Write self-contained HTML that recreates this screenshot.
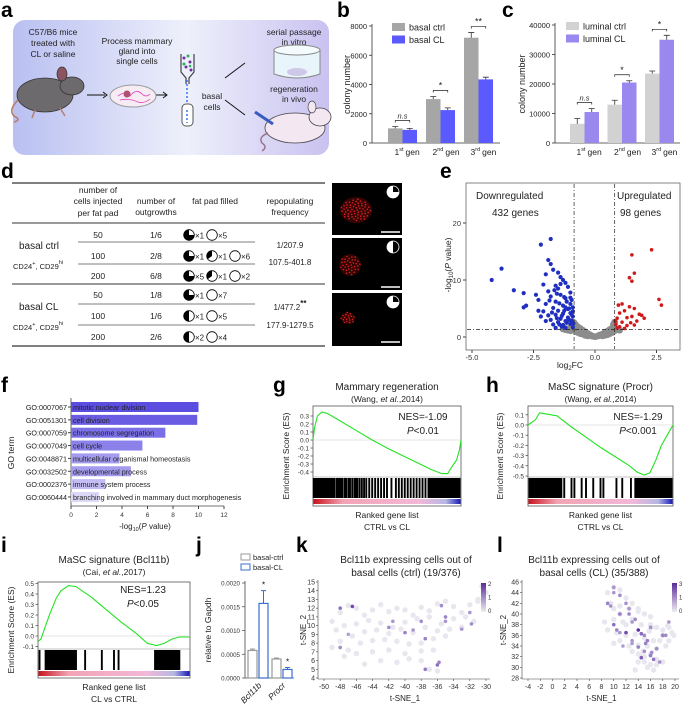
<!DOCTYPE html>
<html><head><meta charset="utf-8">
<style>
html,body{margin:0;padding:0;background:#fff;}
svg{display:block;font-family:"Liberation Sans",Arial,sans-serif;}
.pl{font-weight:bold;font-size:21px;}
.t{font-size:8.5px;fill:#222;}
.tb{font-size:9.5px;fill:#222;}
</style></head>
<body>
<svg id="fig" width="682" height="705" viewBox="0 0 682 705" xmlns="http://www.w3.org/2000/svg">
<defs>
<linearGradient id="bgA" x1="0" x2="1" y1="0" y2="0">
<stop offset="0" stop-color="#b9c0f1"/><stop offset="0.55" stop-color="#eef0fb"/><stop offset="1" stop-color="#c9c2f0"/></linearGradient>
<linearGradient id="strip" x1="0" x2="1"><stop offset="0" stop-color="#c8141e"/><stop offset="0.2" stop-color="#f2a4b4"/><stop offset="0.72" stop-color="#f2b8d8"/><stop offset="0.9" stop-color="#b4b8e4"/><stop offset="1" stop-color="#1a1ab8"/></linearGradient>
<linearGradient id="cbk" x1="0" x2="0" y1="1" y2="0"><stop offset="0" stop-color="#eeeeee"/><stop offset="1" stop-color="#5a2a9c"/></linearGradient>
</defs>

<g>
<text class="pl" x="1" y="17">a</text>
<rect x="13" y="20" width="316" height="135" rx="12" fill="url(#bgA)"/>
<g class="t" text-anchor="middle" font-size="8.5">
<text x="53" y="35">C57/B6 mice</text><text x="53" y="46">treated with</text><text x="53" y="57">CL or saline</text>
<text x="137" y="44">Process mammary</text><text x="137" y="54">gland into</text><text x="137" y="64">single cells</text>
<text x="294" y="35">serial passage</text><text x="294" y="45">in vitro</text>
<text x="294" y="92">regeneration</text><text x="294" y="102">in vivo</text>
<text x="212" y="99">basal</text><text x="212" y="110">cells</text>
</g>
<g>
<ellipse cx="45" cy="95" rx="28" ry="17" fill="#6d6a6e" stroke="#333" stroke-width="0.8"/>
<ellipse cx="72" cy="86" rx="12" ry="9" fill="#6d6a6e" stroke="#333" stroke-width="0.8"/>
<ellipse cx="62" cy="74" rx="5" ry="7" fill="#8a5560" stroke="#333" stroke-width="0.7"/>
<path d="M18 100 Q8 110 14 116 Q22 120 14 122" fill="none" stroke="#b77e70" stroke-width="1.6"/>
<path d="M35 110 l-3 8 M60 108 l5 8" stroke="#b77e70" stroke-width="1.5"/>
</g>
<path d="M87 95 h18 M150 95 h16 M225 78 l20 -15 M225 100 l20 15" stroke="#111" stroke-width="1" fill="none"/>
<path d="M103 92 l4 3 l-4 3 M163 92 l4 3 l-4 3" stroke="#111" fill="none"/>
<g>
<ellipse cx="133" cy="96" rx="23" ry="11" fill="#f7ecf3" stroke="#999"/>
<path d="M118 96 q8 -6 12 0 q6 -8 12 -2 q4 4 8 0 M120 100 q10 -2 18 2 q6 2 12 -3" stroke="#e040c0" fill="none" stroke-width="0.8"/>
<circle cx="127" cy="94" r="3.5" fill="#b05070"/>
</g>
<g>
<path d="M181 54 v18 l5 6 v6 M194 54 v18 l-5 6 v6" stroke="#444" fill="none" stroke-width="1.2"/>
<g fill="#7030a0"><circle cx="184" cy="58" r="1.5"/><circle cx="190" cy="62" r="1.5"/><circle cx="186" cy="67" r="1.5"/><circle cx="191" cy="70" r="1.5"/></g>
<g fill="#30b060"><circle cx="188" cy="56" r="1.5"/><circle cx="184" cy="64" r="1.5"/><circle cx="190" cy="66" r="1.3"/></g>
<path d="M187 80 v28" stroke="#4080f0" stroke-width="1.6" stroke-dasharray="2 2"/>
<rect x="182" y="104" width="11" height="22" rx="4" fill="#fff" stroke="#555"/>
<path d="M187 110 v13" stroke="#4080f0" stroke-width="1.6" stroke-dasharray="2 2"/>
</g>
<g>
<path d="M274 50 v24 q23 8 46 0 v-24" fill="#e8f6fb" stroke="#888"/>
<ellipse cx="297" cy="50" rx="23" ry="5" fill="#f4fbfd" stroke="#888"/>
<ellipse cx="297" cy="72" rx="10" ry="4" fill="#cfc8e8"/>
</g>
<g>
<ellipse cx="295" cy="128" rx="30" ry="15" fill="#f3e7f1" stroke="#444" stroke-width="0.8"/>
<ellipse cx="320" cy="117" rx="11" ry="9" fill="#f3e7f1" stroke="#444" stroke-width="0.8"/>
<ellipse cx="312" cy="107" rx="4" ry="6" fill="#f3e7f1" stroke="#444" stroke-width="0.7"/>
<path d="M268 133 q-10 4 -6 10 q6 4 0 8" stroke="#a07090" fill="none" stroke-width="1.5"/>
<path d="M255 112 l18 12" stroke="#3a5bc0" stroke-width="3"/>
</g>
</g>

<text class="pl" x="337" y="17">b</text>
<text class="pl" x="502" y="17">c</text>
<g id="bc"></g>

<text class="pl" x="1" y="178">d</text>
<g id="tableD" class="tb" font-size="8.5">
<line x1="12" x2="325" y1="183" y2="183" stroke="#333" stroke-width="1.3"/>
<g text-anchor="middle" font-size="8.5">
<text x="98" y="193">number of</text><text x="98" y="204">cells injected</text><text x="98" y="216">per fat pad</text>
<text x="156" y="204">number of</text><text x="156" y="215">outgrowths</text>
<text x="215" y="204">fat pad filled</text>
<text x="290" y="204">repopulating</text><text x="290" y="215">frequency</text>
</g>
<line x1="12" x2="325" y1="223" y2="223" stroke="#333" stroke-width="1"/>
<line x1="12" x2="325" y1="284" y2="284" stroke="#333" stroke-width="1"/>
<line x1="12" x2="325" y1="346" y2="346" stroke="#333" stroke-width="1.3"/>
<g stroke="#999" stroke-width="1.2"><line x1="78" x2="255" y1="242" y2="242"/><line x1="78" x2="255" y1="264" y2="264"/><line x1="78" x2="255" y1="304" y2="304"/><line x1="78" x2="255" y1="325" y2="325"/></g>
<text x="19" y="249" font-size="10">basal ctrl</text>
<text x="13" y="269" font-size="7.5">CD24<tspan dy="-4" font-size="5.5">+</tspan><tspan dy="4">, CD29</tspan><tspan dy="-5" font-size="5.5">hi</tspan></text>
<text x="19" y="310" font-size="10">basal CL</text>
<text x="13" y="330" font-size="7.5">CD24<tspan dy="-4" font-size="5.5">+</tspan><tspan dy="4">, CD29</tspan><tspan dy="-5" font-size="5.5">hi</tspan></text>
<g text-anchor="middle" font-size="8">
<text x="290" y="248">1/207.9</text><text x="290" y="265">107.5-401.8</text>
<text x="290" y="310">1/477.2<tspan dy="-4" font-size="8" font-weight="bold">**</tspan></text><text x="290" y="328">177.9-1279.5</text>
</g>
<g id="drows"></g>
</g>
<g>
<rect x="332" y="183" width="70" height="52" fill="#000"/>
<rect x="332" y="238" width="70" height="52" fill="#000"/>
<rect x="332" y="293" width="70" height="53" fill="#000"/>
<g fill="#b01010">
<ellipse cx="356" cy="210" rx="16" ry="13" opacity="0.3"/><ellipse cx="350" cy="265" rx="11" ry="11" opacity="0.28"/><ellipse cx="348" cy="318" rx="7" ry="6" opacity="0.28"/>
</g>
<g id="speckles" fill="#e02020"></g>
<g stroke="#fff" stroke-width="1.5"><line x1="381" x2="400" y1="232" y2="232"/><line x1="381" x2="400" y1="287" y2="287"/><line x1="381" x2="400" y1="342" y2="342"/></g>
<g id="imgpies"></g>
</g>

<text class="pl" x="440" y="178">e</text>
<g id="volcano"></g>

<text class="pl" x="1" y="392">f</text>
<g id="goBars"></g>
<text class="pl" x="273" y="392">g</text>
<text class="pl" x="486" y="392">h</text>
<text class="pl" x="1" y="552">i</text>
<text class="pl" x="196" y="552">j</text>
<text class="pl" x="296" y="552">k</text>
<text class="pl" x="497" y="552">l</text>
<g id="gsea"></g>
<g id="qpcr"></g>
<g id="tsne"></g>
</svg>

<script>
const bCats = ["1st","2nd","3rd"];
const bCtrl = [1000, 3000, 7200];
const bCtrlErr = [130, 180, 350];
const bCL = [900, 2250, 4350];
const bCLErr = [100, 150, 150];
const bTicks = [0,2000,4000,6000,8000];
const bSig = ["n.s","*","**"];
const cCtrl = [6500, 13000, 23500];
const cCtrlErr = [1800, 1500, 900];
const cCL = [10500, 20500, 35000];
const cCLErr = [1200, 600, 1500];
const cTicks = [0,10000,20000,30000,40000];
const cSig = ["n.s","*","*"];
const dCells = ["50","100","200","50","100","200"];
const dOut = ["1/6","2/8","6/8","1/8","1/6","2/6"];
const dFill = [[[0.75,1],[0,5]],[[0.75,1],[0.35,1],[0,6]],[[0.75,5],[0.35,1],[0,2]],[[0.75,1],[0,7]],[[0.5,1],[0,5]],[[0.5,2],[0,4]]];
const imgFrac = [0.75,0.5,0.75];
const volBlueX = [-4.2,-3.8,-3.3,-2.9,-2.8,-2.9,-2.4,-2.2,-1.8,-1.9,-1.8,-1.7,-1.5,-2.0,-1.4,-1.3,-2.1,-1.6,-1.2,-1.9,-1.5,-1.1,-2.3,-1.8,-1.4,-1.0,-2.0,-1.6,-1.2,-0.95,-1.7,-1.3,-1.0,-2.1,-1.5,-1.1,-0.9,-1.9,-1.6,-1.3,-1.0,-0.9,-1.8,-1.4,-1.1,-1.5,-1.2,-0.95,-1.7,-1.3,-1.0,-1.6,-1.2,-0.9,-2.0,-2.2,-1.75,-1.45,-1.25,-1.55,-0.9,-1.05,-1.35,-1.85,-1.65,-1.15,-1.4,-1.0,-1.2,-0.88,-2.3,-1.35,-1.55,-1.15,-0.95,-1.25,-1.45,-1.05];
const volBlueY = [10,12,8.2,7.7,5.5,5.2,7.4,16.2,17.2,13.5,12.8,11.8,11.3,11,10.5,10,9.2,9.0,9.5,8.0,8.5,8.8,6.5,7.1,7.4,7.8,5.8,6.2,6.8,6.5,5.1,5.5,5.8,4.5,4.6,4.9,5.2,3.8,3.9,4.1,4.2,3.6,3.0,3.2,3.4,2.6,2.8,2.9,2.2,2.1,2.3,1.6,1.6,1.7,2.8,3.6,4.3,5.9,7.0,7.6,4.5,3.0,1.8,6.4,8.2,6.2,9.3,6.9,5.2,2.4,4.6,3.7,3.3,2.5,3.9,4.6,2.2,5.0];
const volRedX = [2.3,1.5,1.6,1.4,1.5,2.6,2.7,1.1,0.95,1.4,1.6,1.2,1.8,1.9,1.0,0.9,1.3,1.5,1.1,1.7,0.85,1.0,1.3,1.6,1.2,0.9,2.0,0.82,1.45];
const volRedY = [15.3,14.4,11.2,10.4,9.8,6.6,5.6,5.8,5.6,5.3,5.0,4.6,4.0,3.8,4.2,3.3,3.4,3.6,2.6,2.8,2.2,1.8,2.0,2.1,1.5,1.6,3.3,2.8,2.5];
const volGrayX = [-1.3,-1.2,-1.1,-1.0,-0.9,-0.85,-0.8,-0.8,-0.7,-0.7,-0.6,-0.6,-0.5,-0.5,-0.4,-0.4,-0.3,-0.3,-0.2,-0.1,0,0.1,0.2,0.3,0.3,0.4,0.4,0.5,0.5,0.6,0.6,0.7,0.7,0.75,0.8,0.8,-0.95,-1.05,-1.25,0.85,0.9,1.0,-0.65,-0.45,0.45,0.65,-0.15,0.15,-0.25,0.25];
const volGrayY = [1.4,1.3,1.2,1.1,1.3,2.5,2.2,1.0,1.8,0.8,1.5,0.6,1.2,0.5,0.9,0.3,0.6,0.2,0.4,0.15,0.05,0.15,0.35,0.5,0.2,0.8,0.3,1.0,0.4,1.3,0.6,1.6,0.8,2.2,1.1,2.6,2.0,1.5,1.6,1.4,1.3,1.2,1.1,0.7,0.6,1.0,0.2,0.25,0.3,0.3];
const volXTicks = [-5,-2.5,0,2.5];
const volYTicks = [0,10,20];
const goIds = ["GO:0007067","GO:0051301","GO:0007059","GO:0007049","GO:0048871","GO:0032502","GO:0002376","GO:0060444"];
const goTerms = ["mitotic nuclear division","cell division","chromosome segregation","cell cycle","multicellular organismal homeostasis","developmental process","immune system process","branching involved in mammary duct morphogenesis"];
const goVals = [10, 9.9, 7.4, 5.6, 3.8, 4.7, 2.7, 2.2];
const goTicks = [0,2,4,6,8,10,12];
const gRank = [0,0.01,0.03,0.06,0.1,0.2,0.3,0.4,0.5,0.6,0.7,0.8,0.87,0.91,0.94,0.97,0.99,1.0];
const gES = [0,0.15,0.3,0.35,0.33,0.22,0.11,0.0,-0.1,-0.19,-0.28,-0.37,-0.42,-0.42,-0.33,-0.25,-0.12,0];
const gHits = [0.005,0.015,0.025,0.035,0.045,0.055,0.065,0.075,0.085,0.095,0.105,0.115,0.125,0.135,0.145,0.16,0.17,0.18,0.19,0.2,0.215,0.225,0.24,0.25,0.265,0.28,0.29,0.3,0.315,0.33,0.345,0.36,0.38,0.4,0.42,0.44,0.46,0.48,0.5,0.53,0.56,0.58,0.6,0.62,0.64,0.66,0.68,0.7,0.72,0.74,0.76,0.78,0.79,0.8,0.81,0.82,0.83,0.84,0.85,0.86,0.87,0.88,0.89,0.9,0.91,0.92,0.93,0.94,0.95,0.96,0.97,0.98,0.99];
const hRank = [0,0.02,0.05,0.08,0.12,0.2,0.3,0.4,0.5,0.6,0.7,0.75,0.8,0.84,0.88,0.92,0.96,1.0];
const hES = [0,0.02,0.05,0.12,0.11,0.09,-0.02,-0.12,-0.22,-0.31,-0.4,-0.46,-0.49,-0.47,-0.35,-0.2,-0.1,0];
const hHits = [0.01,0.02,0.03,0.04,0.05,0.06,0.07,0.08,0.09,0.1,0.11,0.12,0.13,0.14,0.15,0.16,0.17,0.18,0.19,0.2,0.21,0.22,0.23,0.25,0.3,0.32,0.37,0.4,0.45,0.5,0.52,0.61,0.65,0.71,0.74,0.75,0.76,0.77,0.78,0.79,0.8,0.81,0.82,0.83,0.84,0.85,0.86,0.87,0.88,0.89,0.9,0.91,0.92,0.93,0.94,0.95,0.96,0.97,0.98,0.99];
const iRank = [0,0.02,0.05,0.08,0.12,0.15,0.2,0.25,0.35,0.45,0.55,0.65,0.72,0.78,0.83,0.88,0.93,0.97,1.0];
const iES = [-0.05,-0.03,0.1,0.22,0.36,0.43,0.48,0.47,0.37,0.25,0.13,0.02,-0.07,-0.09,-0.07,-0.03,-0.01,-0.01,-0.01];
const iHits = [0.01,0.05,0.06,0.07,0.08,0.09,0.1,0.11,0.12,0.13,0.14,0.15,0.16,0.17,0.18,0.19,0.2,0.21,0.22,0.23,0.24,0.25,0.31,0.42,0.5,0.53,0.77,0.78,0.79,0.8,0.81,0.82,0.83,0.84,0.85,0.86,0.87,0.88,0.89,0.9,0.91,0.92,0.93];
const jGenes = ["Bcl11b","Procr"];
const jCtrl = [0.00058, 0.0004];
const jCtrlErr = [0.00003, 0.00002];
const jCL = [0.00157, 0.00018];
const jCLErr = [0.00027, 0.00004];
const jTicks = [0,0.0005,0.001,0.0015,0.002];
const kGrayX = [-49,-48,-47,-46,-45,-44,-43,-42,-41,-40,-39,-38,-37,-36,-35,-34,-33,-32,-31,-30.5,-48.5,-47.5,-46,-44.5,-43,-41.5,-40,-38.5,-37,-35.5,-34,-32.5,-31.5,-48,-46.5,-45,-43.5,-42,-40.5,-39,-37.5,-36,-34.5,-33,-49,-47,-45.5,-44,-42.5,-41,-39.5,-38,-36.5,-35,-47.5,-46,-44,-42,-40,-38,-36.5,-45,-43,-41,-39.5,-38,-37,-36,-30,-31];
const kGrayY = [10.5,11.5,12.3,12,11.2,11.8,12.4,11.6,12,11.8,11.2,12.1,11.7,12.5,12.8,12.2,11.5,12.4,13,14.5,9.5,10,10.2,10.6,10.3,9.8,10.4,10.8,11,10.2,10.8,11,10.5,8.2,8.8,9.3,9.5,9.1,9.6,9.2,9.8,9.4,9.6,9.8,7.5,7.2,8.0,8.3,8.4,8.2,7.9,8.0,8.5,8.8,6.5,6.8,7.0,7.2,6.8,7.1,7.2,5.6,6.0,5.8,6.2,6.0,5.0,4.8,13.8,12.8];
const kHiX = [-48,-46.5,-41.5,-42,-47,-48,-39,-40,-38,-35.5,-35,-35,-32,-31.8,-37.5,-36,-35.8,-37.5,-33];
const kHiY = [12,12.2,10.5,9.8,9,7.5,9.5,9.2,10.5,12.3,11,10.5,11.5,10.2,8.5,5.5,5.8,5,9.6];
const kHiV = [1.2,1.6,0.8,0.9,0.7,0.9,0.8,1.0,0.9,0.9,1.0,0.8,0.8,0.9,1.0,1.2,1.0,1.1,0.8];
const kXTicks = [-50,-48,-46,-44,-42,-40,-38,-36,-34,-32,-30];
const kYTicks = [4,5,6,7,8,9,10,11,12,13,14,15];
const lGrayX = [9,10,11,12,13,14,9.5,11,12.5,14,15,16,10,11.5,13,14.5,16,17,18,19,19.5,9,10.5,12,13.5,15,16.5,18,19,10,11,12.5,14,15.5,17,18.5,13,14,15,16,17,14,15,16,17,18,13.5,15.5,16.5,14.5,12,11,10,8.5,17.5,19.8,18.8,16.2,15.8,14.8];
const lGrayY = [44,45,44.5,43,42,41,42,41.5,41,40.5,40,39.5,39,38.5,39,38,38,37.5,37,37.5,36.5,37,36.5,36,36.2,35.5,35,36,35,34.5,35,34,34.2,34,33.5,34,33,32.5,32,32.5,31.5,31,31,30.5,30.5,31,29.5,30,29.5,32,38,40,41,38.5,35,36,37.8,37.5,36.8,33];
const lHiX = [9,10,11,12,12.5,13,11,10,13.5,14,15,16,12,13,14.5,15.5,17,18,19,10.5,11.5,16,15,14,13,18.5,16.5,17.5,11,12.5,14.5,16.2,15.2,9.5,10];
const lHiY = [42,45,43.5,42,40,38.5,40,38,39,37,36,37.5,36.5,35,36.3,35,33.5,36,38.5,37,34,32.2,33,33.8,34.5,36,31.5,31,36.5,41,31.8,32.8,34.5,41.5,44];
const lHiV = [1.5,1.2,1.4,1.3,1.5,1.2,1.6,1.8,1.4,2.8,1.4,1.3,2.4,1.2,1.9,1.6,1.4,1.5,1.2,1.5,1.1,1.6,1.3,1.5,1.1,1.4,1.7,1.3,1.2,1.2,2.1,1.4,1.5,1.3,1.2];
const lXTicks = [-4,-2,0,2,4,6,8,10,12,14,16,18,20];
const lYTicks = [28,30,32,34,36,38,40,42,44,46];

const NS = "http://www.w3.org/2000/svg";
function el(tag, attrs, parent, txt){
  const e = document.createElementNS(NS, tag);
  for (const k in attrs) e.setAttribute(k, attrs[k]);
  if (txt !== undefined) e.textContent = txt;
  parent.appendChild(e); return e;
}
function lin(d0,d1,r0,r1){ return v => r0 + (v-d0)/(d1-d0)*(r1-r0); }

function barPanel(g, o){
  const y = lin(0, o.max, o.y0, o.y1);
  el("line",{x1:o.ax,x2:o.ax,y1:o.y0,y2:o.y1-2,stroke:"#333","stroke-width":0.8},g);
  el("line",{x1:o.ax,x2:o.axEnd,y1:o.y0,y2:o.y0,stroke:"#333","stroke-width":0.8},g);
  o.ticks.forEach(t=>{
    el("line",{x1:o.ax-3,x2:o.ax,y1:y(t),y2:y(t),stroke:"#333","stroke-width":0.8},g);
    const tl = el("text",{x:o.ax-5,y:y(t)+3,"text-anchor":"end","font-size":7.5,fill:"#222"},g,String(t));
    
    
  });
  const yl = el("text",{transform:`translate(${o.ylx},${(o.y0+o.y1)/2}) rotate(-90)`,"text-anchor":"middle","font-size":9,fill:"#222"},g,"colony number");
  
  
  o.cats.forEach((c,i)=>{
    const x0 = o.x0 + i*o.step;
    const r1 = el("rect",{x:x0,y:y(o.a[i]),width:o.bw,height:o.y0-y(o.a[i]),fill:o.ca},g);
    
    
    const r2 = el("rect",{x:x0+o.bw,y:y(o.b[i]),width:o.bw,height:o.y0-y(o.b[i]),fill:o.cb},g);
    
    
    [[x0,o.a[i],o.ae[i]],[x0+o.bw,o.b[i],o.be[i]]].forEach(([bx,v,e])=>{
      const cx = bx+o.bw/2;
      el("path",{d:`M${cx} ${y(v)} V${y(v+e)} M${cx-3} ${y(v+e)} H${cx+3}`,stroke:"#333","stroke-width":0.8,fill:"none"},g);
    });
    const top = y(Math.max(o.a[i]+o.ae[i], o.b[i]+o.be[i])) - 6;
    el("path",{d:`M${x0+o.bw/2} ${top+2} V${top} H${x0+1.5*o.bw} V${top+2}`,stroke:"#222","stroke-width":0.7,fill:"none"},g);
    el("text",{x:x0+o.bw,y:top-2,"text-anchor":"middle","font-size":o.sig[i]==="n.s"?7.5:9,"font-style":o.sig[i]==="n.s"?"italic":"normal",fill:"#222"},g,o.sig[i]);
    const xl = el("text",{x:x0+o.bw-8,y:o.y0+12,"font-size":8.5,fill:"#222"},g);
    
    
    el("tspan",{},xl,c[0]);
    el("tspan",{dy:-4,"font-size":5.5},xl,c.slice(1));
    el("tspan",{dy:4,dx:2},xl,"gen");
  });
  o.legend.forEach((L,k)=>{
    const r = el("rect",{x:o.lx,y:o.ly+k*12.5-4,width:13,height:8,fill:L[1]},g);
    
    
    const t = el("text",{x:o.lx+17,y:o.ly+k*12.5+3.5,"font-size":9,fill:"#222"},g,L[0]);
    
    
  });
}
const gb = el("g",{},document.getElementById("bc"));


barPanel(gb,{max:8000,y0:143,y1:26,ax:372,axEnd:500,ylx:350,ticks:bTicks,cats:bCats,a:bCtrl,ae:bCtrlErr,b:bCL,be:bCLErr,sig:bSig,x0:388,step:38,bw:14.5,ca:"#a6a6a6",cb:"#5a5aff",lx:392,ly:27,legend:[["basal ctrl","#a6a6a6"],["basal CL","#5a5aff"]]});
const gc = el("g",{},document.getElementById("bc"));


barPanel(gc,{max:40000,y0:143,y1:25,ax:555,axEnd:680,ylx:525,ticks:cTicks,cats:bCats,a:cCtrl,ae:cCtrlErr,b:cCL,be:cCLErr,sig:cSig,x0:570,step:37.5,bw:14.5,ca:"#d2d2d2",cb:"#9a88ee",lx:566,ly:26,legend:[["luminal ctrl","#d2d2d2"],["luminal CL","#9a88ee"]]});

function pie(parent,cx,cy,r,f,bg,fg){
  el("circle",{cx,cy,r,fill:bg,stroke:fg,"stroke-width":0.8},parent);
  if (f<=0) return;
  const a = -f*2*Math.PI;
  const px = cx + r*Math.sin(a), py = cy - r*Math.cos(a);
  el("path",{d:`M${cx} ${cy} L${px} ${py} A${r} ${r} 0 ${f>0.5?1:0} 1 ${cx} ${cy-r} Z`,fill:fg},parent);
}
const rowsY = [235,256,276,295,316,337];
const dr = document.getElementById("drows");
rowsY.forEach((ry,i)=>{
  const rg = el("g",{},dr);
  
  
  el("text",{x:98,y:ry+3,"text-anchor":"middle","font-size":8.5},rg,dCells[i]);
  el("text",{x:156,y:ry+3,"text-anchor":"middle","font-size":8.5},rg,dOut[i]);
  let x = 189;
  dFill[i].forEach(([f,n])=>{
    pie(rg,x,ry,5.3,f,"#fff","#000");
    el("text",{x:x+6,y:ry+3.5,"font-size":8},rg,"×"+n);
    x += 23;
  });
});
const ip = document.getElementById("imgpies");
[192,247,302].forEach((cy,i)=>pie(ip,393,cy,6,imgFrac[i],"#000","#fff"));
// speckle texture for whole mounts (decorative)
const sp = document.getElementById("speckles");
const spCenters = [[356,210,15,11,60],[350,265,10,10,35],[348,318,7,6,18]];
spCenters.forEach(([cx,cy,rx,ry,n])=>{
  for(let k=0;k<n;k++){
    const a = k*2.39996, rr = Math.sqrt((k+0.5)/n);
    el("circle",{cx:cx+Math.cos(a)*rx*rr,cy:cy+Math.sin(a)*ry*rr,r:0.8},sp);
  }
});

(function(){
  const g = document.getElementById("volcano");
  
  
  const x = lin(-5,0,472,595), y = lin(0,20,337,223);
  el("rect",{x:466,y:183,width:214,height:167,fill:"#fff",stroke:"#666","stroke-width":0.8},g);
  volXTicks.forEach(t=>{
    el("line",{x1:x(t),x2:x(t),y1:350,y2:353,stroke:"#444"},g);
    const tl = el("text",{x:x(t),y:360,"text-anchor":"middle","font-size":7.5,fill:"#333"},g,t.toFixed(1));
    
    
  });
  volYTicks.forEach(t=>{
    el("line",{x1:463,x2:466,y1:y(t),y2:y(t),stroke:"#444"},g);
    const tl = el("text",{x:461,y:y(t)+3,"text-anchor":"end","font-size":7.5,fill:"#333"},g,t);
    
    
  });
  volGrayX.forEach((v,i)=>{
    const c = el("circle",{cx:x(v),cy:y(volGrayY[i]),r:3.4,fill:"#8c8c8c"},g);
    
    
  });
  volBlueX.forEach((v,i)=>{
    const c = el("circle",{cx:x(v),cy:y(volBlueY[i]),r:2.1,fill:"#1f2fc0"},g);
    
    
  });
  volRedX.forEach((v,i)=>{
    const c = el("circle",{cx:x(v),cy:y(volRedY[i]),r:1.8,fill:"#d01a1a"},g);
    
    
  });
  [-0.85,0.8].forEach(t=>el("line",{x1:x(t),x2:x(t),y1:184,y2:349,stroke:"#222","stroke-width":0.7,"stroke-dasharray":"4 2 1 2"},g));
  el("line",{x1:467,x2:679,y1:y(1.3),y2:y(1.3),stroke:"#222","stroke-width":0.7,"stroke-dasharray":"4 2 1 2"},g);
  el("text",{x:476,y:199,"font-size":10,fill:"#222"},g,"Downregulated");
  el("text",{x:492,y:216,"font-size":10,fill:"#222"},g,"432 genes");
  el("text",{x:617,y:199,"font-size":10,fill:"#222"},g,"Upregulated");
  el("text",{x:620,y:216,"font-size":10,fill:"#222"},g,"98 genes");
  const xt = el("text",{x:570,y:368,"text-anchor":"middle","font-size":8.5,fill:"#222"},g);
  
  
  el("tspan",{},xt,"log");el("tspan",{"font-size":6,dy:2},xt,"2");el("tspan",{dy:-2},xt,"FC");
  const yt = el("text",{transform:"translate(451,265) rotate(-90)","text-anchor":"middle","font-size":8.5,fill:"#222"},g);
  
  
  el("tspan",{},yt,"-log");el("tspan",{"font-size":6,dy:2},yt,"10");el("tspan",{dy:-2},yt,"(");el("tspan",{"font-style":"italic"},yt,"P");el("tspan",{},yt," value)");
})();

(function(){
  const g = document.getElementById("goBars");
  
  
  const x = lin(0,12,71,224);
  const rowH = 12.85, top = 401;
  const cols = ["#5b4de0","#6a5de4","#7a6fe6","#8b81ea","#a49bef","#a49bef","#c3bdf4","#dcd9f8"];
  el("line",{x1:71,x2:71,y1:398,y2:506,stroke:"#444","stroke-width":0.8},g);
  el("line",{x1:71,x2:224,y1:506,y2:506,stroke:"#444","stroke-width":0.8},g);
  goIds.forEach((id,i)=>{
    const cy = top + i*rowH + 6;
    const r = el("rect",{x:71,y:cy-5,width:x(goVals[i])-71,height:10,fill:cols[i]},g);
    
    
    el("line",{x1:68,x2:71,y1:cy,y2:cy,stroke:"#444"},g);
    el("text",{x:67,y:cy+3,"text-anchor":"end","font-size":7.2,fill:"#222"},g,id);
    el("text",{x:73,y:cy+3,"font-size":7.2,fill:"#222"},g,goTerms[i]);
  });
  goTicks.forEach(t=>{
    el("line",{x1:x(t),x2:x(t),y1:506,y2:509,stroke:"#444"},g);
    const tl = el("text",{x:x(t),y:517,"text-anchor":"middle","font-size":6.5,fill:"#333"},g,t);
    
    
  });
  const xt = el("text",{x:145,y:529,"text-anchor":"middle","font-size":8,fill:"#222"},g);
  
  
  el("tspan",{},xt,"-log");el("tspan",{"font-size":5.5,dy:2},xt,"10");el("tspan",{dy:-2},xt,"(");el("tspan",{"font-style":"italic"},xt,"P");el("tspan",{},xt," value)");
  const yt = el("text",{transform:"translate(14,453) rotate(-90)","text-anchor":"middle","font-size":8.5,fill:"#222"},g,"GO term");
  
  
})();

function gsea(o){
  const g = el("g",{},document.getElementById("gsea"));
  
  
  const x = lin(0,1,o.x0,o.x1), y = lin(0,0.1,o.yz,o.yz-o.u);
  el("rect",{x:o.x0,y:o.top,width:o.x1-o.x0,height:o.bot-o.top,fill:"#fff",stroke:"#555","stroke-width":0.8},g);
  el("line",{x1:o.x0,x2:o.x1,y1:o.yz,y2:o.yz,stroke:"#ccc","stroke-width":0.6},g);
  el("line",{x1:o.x0,x2:o.x1,y1:o.esB,y2:o.esB,stroke:"#888","stroke-width":0.6},g);
  o.ticks.forEach(t=>{
    el("line",{x1:o.x0-2.5,x2:o.x0,y1:y(t),y2:y(t),stroke:"#444","stroke-width":0.7},g);
    const tl = el("text",{x:o.x0-4,y:y(t)+2.5,"text-anchor":"end","font-size":6.5,fill:"#333"},g,t.toFixed(1));
    
    
  });
  o.hits.forEach(h=>{
    const l = el("line",{x1:x(h),x2:x(h),y1:o.esB+1,y2:o.stripY-1,stroke:"#000","stroke-width":1.9},g);
    
    
  });
  el("rect",{x:o.x0+0.5,y:o.stripY,width:o.x1-o.x0-1,height:5,fill:"url(#strip)"},g);
  const d = o.rank.map((r,i)=>(i?"L":"M")+x(r).toFixed(1)+" "+y(o.es[i]).toFixed(1)).join(" ");
  const p = el("path",{d,fill:"none",stroke:"#22e322","stroke-width":1.1},g);
  
  
  const cx = (o.x0+o.x1)/2;
  el("text",{x:cx,y:o.t1,"text-anchor":"middle","font-size":10,fill:"#222"},g,o.title);
  const st = el("text",{x:cx,y:o.t1+12,"text-anchor":"middle","font-size":8.5,fill:"#222"},g);
  el("tspan",{},st,"("+o.author+", ");el("tspan",{"font-style":"italic"},st,"et al.");el("tspan",{},st,","+o.year+")");
  el("text",{x:o.nesX,y:o.nesY,"text-anchor":"middle","font-size":10,fill:"#222"},g,o.nes);
  const pt = el("text",{x:o.nesX,y:o.nesY+14,"text-anchor":"middle","font-size":10,fill:"#222"},g);
  el("tspan",{"font-style":"italic"},pt,"P");el("tspan",{},pt,o.p);
  el("text",{x:cx,y:o.bot+12,"text-anchor":"middle","font-size":8.5,fill:"#222"},g,"Ranked gene list");
  el("text",{x:cx,y:o.bot+24,"text-anchor":"middle","font-size":8.5,fill:"#222"},g,o.cmp);
  const yt = el("text",{transform:`translate(${o.ylx},${(o.top+o.bot)/2}) rotate(-90)`,"text-anchor":"middle","font-size":8.5,fill:"#222"},g,"Enrichment Score (ES)");
  
  
}
gsea({name:"gsea-mammary-regeneration",x0:313,x1:461,top:406,bot:506,yz:440,u:8,esB:477,stripY:499,ticks:[0.3,0.2,0.1,0.0,-0.1,-0.2,-0.3,-0.4],hits:gHits,rank:gRank,es:gES,t1:390,title:"Mammary regeneration",author:"Wang",year:"2014",nesX:423,nesY:420,nes:"NES=-1.09",p:"<0.01",cmp:"CTRL vs CL",ylx:289});
gsea({name:"gsea-masc-procr",x0:528,x1:673,top:406,bot:506,yz:425,u:10.2,esB:477,stripY:499,ticks:[0.1,0.0,-0.1,-0.2,-0.3,-0.4,-0.5],hits:hHits,rank:hRank,es:hES,t1:390,title:"MaSC signature (Procr)",author:"Wang",year:"2014",nesX:638,nesY:420,nes:"NES=-1.29",p:"<0.001",cmp:"CTRL vs CL",ylx:503});
gsea({name:"gsea-masc-bcl11b",x0:38,x1:190,top:582,bot:678,yz:636,u:10.5,esB:649,stripY:671,ticks:[0.5,0.4,0.3,0.2,0.1,0.0,-0.1],hits:iHits,rank:iRank,es:iES,t1:563,title:"MaSC signature (Bcl11b)",author:"Cai",year:"2017",nesX:143,nesY:593,nes:"NES=1.23",p:"<0.05",cmp:"CL vs CTRL",ylx:14});

(function(){
  const g = document.getElementById("qpcr");
  
  
  const y = lin(0,0.002,678,583);
  el("line",{x1:245,x2:245,y1:581,y2:678,stroke:"#444","stroke-width":0.8},g);
  el("line",{x1:245,x2:294,y1:678,y2:678,stroke:"#444","stroke-width":0.8},g);
  jTicks.forEach(t=>{
    el("line",{x1:242,x2:245,y1:y(t),y2:y(t),stroke:"#444","stroke-width":0.7},g);
    const tl = el("text",{x:240,y:y(t)+2.5,"text-anchor":"end","font-size":6.2,fill:"#333"},g,t.toFixed(4));
    
    
  });
  const xs = [248,272];
  jGenes.forEach((gn,i)=>{
    const x0 = xs[i];
    [[x0,jCtrl[i],jCtrlErr[i],"#999"],[x0+11,jCL[i],jCLErr[i],"#3a6fd0"]].forEach(([bx,v,e,c],k)=>{
      const r = el("rect",{x:bx,y:y(v),width:9,height:678-y(v),fill:"#fff",stroke:c,"stroke-width":1.2},g);
      
      
      el("path",{d:`M${bx+4.5} ${y(v)} V${y(v+e)} M${bx+2} ${y(v+e)} H${bx+7}`,stroke:c,"stroke-width":1,fill:"none"},g);
    });
    el("text",{x:x0+15.5,y:y(jCL[i]+jCLErr[i])-3,"text-anchor":"middle","font-size":8},g,"*");
    const lt = el("text",{transform:`translate(${x0+14},${686}) rotate(-45)`,"text-anchor":"end","font-size":8.5,"font-style":"italic",fill:"#222"},g,gn);
    
    
  });
  [["basal-ctrl","#999"],["basal-CL","#3a6fd0"]].forEach((L,k)=>{
    el("rect",{x:241,y:554+k*10,width:9,height:6,fill:"#fff",stroke:L[1],"stroke-width":1},g);
    const t = el("text",{x:253,y:560+k*10,"font-size":7.5,fill:"#222"},g,L[0]);
    
    
  });
  const yt = el("text",{transform:"translate(211,630) rotate(-90)","text-anchor":"middle","font-size":8.5,fill:"#222"},g,"relative to Gapdh");
  
  
})();

function tsne(o){
  const g = el("g",{},document.getElementById("tsne"));
  
  
  const x = lin(o.xd[0],o.xd[1],o.xr[0],o.xr[1]), y = lin(o.yd[0],o.yd[1],582,678);
  el("line",{x1:o.xr[0]-6,x2:o.xr[0]-6,y1:580,y2:679,stroke:"#444","stroke-width":0.6},g);
  el("line",{x1:o.xr[0]-6,x2:o.xr[1]+4,y1:679,y2:679,stroke:"#444","stroke-width":0.6},g);
  o.xt.forEach(t=>{
    el("line",{x1:x(t),x2:x(t),y1:679,y2:681,stroke:"#444","stroke-width":0.6},g);
    const tl = el("text",{x:x(t),y:689,"text-anchor":"middle","font-size":7,fill:"#333"},g,t);
    
    
  });
  o.yt.forEach(t=>{
    el("line",{x1:o.xr[0]-8,x2:o.xr[0]-6,y1:y(t),y2:y(t),stroke:"#444","stroke-width":0.6},g);
    const tl = el("text",{x:o.xr[0]-9,y:y(t)+2.5,"text-anchor":"end","font-size":7,fill:"#333"},g,t);
    
    
  });
  o.gx.forEach((v,i)=>{
    const c = el("circle",{cx:x(v),cy:y(o.gy[i]),r:2.7,fill:"#e8e6ee"},g);
    
    
  });
  o.hx.forEach((v,i)=>{
    const f = Math.min(1,o.hv[i]/o.vmax);
    const c = el("circle",{cx:x(v),cy:y(o.hy[i]),r:1.8,fill:`rgb(${Math.round(230-150*f)},${Math.round(225-190*f)},${Math.round(240-80*f)})`},g);
    
    
  });
  const cx = o.tcx;
  el("text",{x:cx,y:563,"text-anchor":"middle","font-size":10,fill:"#222"},g,"Bcl11b expressing cells out of");
  el("text",{x:cx,y:576,"text-anchor":"middle","font-size":10,fill:"#222"},g,o.sub);
  el("text",{x:(o.xr[0]+o.xr[1])/2,y:701,"text-anchor":"middle","font-size":8,fill:"#222"},g,"t-SNE_1");
  el("text",{transform:`translate(${o.ylx},630) rotate(-90)`,"text-anchor":"middle","font-size":8,fill:"#222"},g,"t-SNE_2");
  const cb = el("rect",{x:o.cbx,y:583,width:5,height:29,fill:"url(#cbk)"},g);
  
  
  o.cbl.forEach((l,k)=>el("text",{x:o.cbx+7,y:586+k*(27/(o.cbl.length-1)),"font-size":6,fill:"#333"},g,l));
}
tsne({name:"tsne-ctrl",xd:[-50,-30],xr:[324,486],yd:[15,4],xt:kXTicks,yt:kYTicks,gx:kGrayX,gy:kGrayY,hx:kHiX,hy:kHiY,hv:kHiV,vmax:2,tcx:406,sub:"basal cells (ctrl) (19/376)",ylx:306,cbx:481,cbl:["2","1","0"]});
tsne({name:"tsne-cl",xd:[-4,20],xr:[528,675],yd:[46,28],xt:lXTicks,yt:lYTicks,gx:lGrayX,gy:lGrayY,hx:lHiX,hy:lHiY,hv:lHiV,vmax:3,tcx:594,sub:"basal cells (CL) (35/388)",ylx:506,cbx:672,cbl:["3","1.5","0"]});
</script>
</body></html>
